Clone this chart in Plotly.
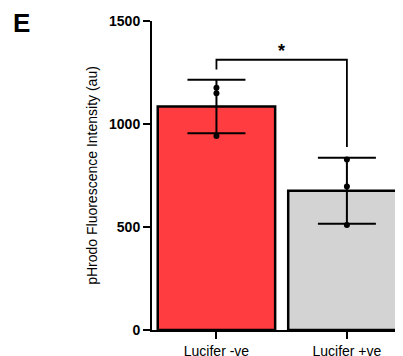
import plotly.graph_objects as go

categories = ["Lucifer -ve", "Lucifer +ve"]
means = [1085, 676]
sds = [130, 160]
points_neg = [1176, 1149, 942]
points_pos = [828, 696, 510]
bar_colors = ["#FF3C40", "#D3D3D3"]
y_ticks = [0, 500, 1000, 1500]
sig_y = 1312
sig_left_end = 1265
sig_right_end = 888

fig = go.Figure()
fig.add_trace(go.Bar(
    x=[0, 1], y=means, width=0.9,
    marker=dict(color=bar_colors, line=dict(color="black", width=2.5)),
    error_y=dict(type="data", array=sds, visible=True, color="black", thickness=2, width=29),
    showlegend=False,
))
fig.add_trace(go.Scatter(
    x=[0] * len(points_neg) + [1] * len(points_pos),
    y=points_neg + points_pos,
    mode="markers", marker=dict(color="black", size=6),
    showlegend=False, cliponaxis=False,
))

# significance bracket
fig.add_shape(type="path",
              path=f"M 0,{sig_left_end} L 0,{sig_y} L 1,{sig_y} L 1,{sig_right_end}",
              xref="x", yref="y", line=dict(color="black", width=1.8))
fig.add_annotation(x=0.5, y=sig_y, xref="x", yref="y", text="<b>*</b>", showarrow=False,
                   yanchor="bottom", font=dict(size=18, color="black"), yshift=-3)
fig.add_annotation(x=-0.56, y=1.0, xref="paper", yref="paper", text="<b>E</b>",
                   showarrow=False, xanchor="left", yanchor="top", yshift=15,
                   font=dict(size=26, color="black"))

fig.update_layout(
    width=395, height=348,
    margin=dict(l=144, r=0, t=13, b=26, autoexpand=False),
    paper_bgcolor="white", plot_bgcolor="white",
    font=dict(family="Liberation Sans, Arial, sans-serif", color="black"),
    xaxis=dict(range=[-0.494, 1.43], tickvals=[0, 1], ticktext=categories, automargin=False,
               showline=True, linecolor="black", linewidth=2,
               ticks="outside", ticklen=7, tickwidth=2, tickcolor="black",
               tickfont=dict(size=14), showgrid=False, zeroline=False),
    yaxis=dict(range=[0, 1500], tickvals=y_ticks, automargin=False,
               showline=True, linecolor="black", linewidth=2,
               ticks="outside", ticklen=7, tickwidth=2, tickcolor="black",
               tickfont=dict(size=14, weight="bold"), showgrid=False, zeroline=False,
               title=dict(text="pHrodo Fluorescence Intensity (au)", font=dict(size=14), standoff=8)),
)
fig.write_html("out.html")
